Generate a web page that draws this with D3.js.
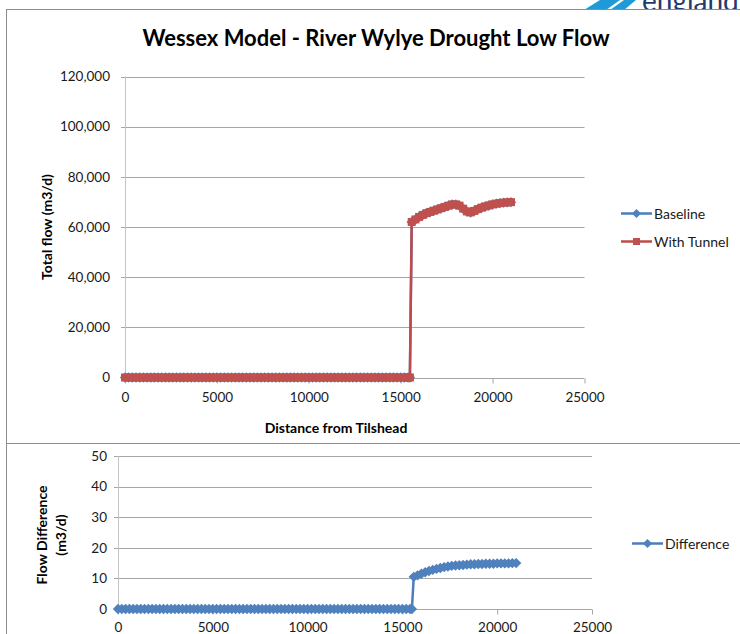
<!DOCTYPE html>
<meta charset="utf-8">
<body style="margin:0;background:#fff">
<script src="https://d3js.org/d3.v7.min.js"></script>
<svg></svg>
<script>
    var width = 740;
    var height = 634;

    // distance downstream from Tilshead (m)
    var distance = [
        0,200,400,600,800,1000,1200,1400,1600,1800,2000,2200,2400,2600,2800,3000,3200,3400,3600,3800,
        4000,4200,4400,4600,4800,5000,5200,5400,5600,5800,6000,6200,6400,6600,6800,7000,7200,7400,7600,7800,
        8000,8200,8400,8600,8800,9000,9200,9400,9600,9800,10000,10200,10400,10600,10800,11000,11200,11400,11600,11800,
        12000,12200,12400,12600,12800,13000,13200,13400,13600,13800,14000,14200,14400,14600,14800,15000,15200,15400,15500,
        15600,15800,16000,16200,16400,16600,16800,17000,17200,17400,17600,17800,18000,18200,18400,18600,18800,19000,19200,19400,
        19600,19800,20000,20200,20400,20600,20800,21000
    ];
    var baseline = [
        0,0,0,0,0,0,0,0,0,0,0,0,0,0,0,0,0,0,0,0,
        0,0,0,0,0,0,0,0,0,0,0,0,0,0,0,0,0,0,0,0,
        0,0,0,0,0,0,0,0,0,0,0,0,0,0,0,0,0,0,0,0,
        0,0,0,0,0,0,0,0,0,0,0,0,0,0,0,0,0,0,0,
        62000,63000,64000,64800,65500,66000,66500,67000,67500,68000,68500,69000,69000,68500,67300,66200,65800,66400,67100,67700,
        68200,68600,69000,69300,69500,69700,69800,69900
    ];
    var withTunnel = [
        0,0,0,0,0,0,0,0,0,0,0,0,0,0,0,0,0,0,0,0,
        0,0,0,0,0,0,0,0,0,0,0,0,0,0,0,0,0,0,0,0,
        0,0,0,0,0,0,0,0,0,0,0,0,0,0,0,0,0,0,0,0,
        0,0,0,0,0,0,0,0,0,0,0,0,0,0,0,0,0,0,0,
        62011,63011,64012,64812,65512,66013,66513,67013,67514,68014,68514,69014,69014,68514,67315,66215,65815,66415,67115,67715,
        68215,68615,69015,69315,69515,69715,69815,69915
    ];
    var difference = [
        0,0,0,0,0,0,0,0,0,0,0,0,0,0,0,0,0,0,0,0,
        0,0,0,0,0,0,0,0,0,0,0,0,0,0,0,0,0,0,0,0,
        0,0,0,0,0,0,0,0,0,0,0,0,0,0,0,0,0,0,0,0,
        0,0,0,0,0,0,0,0,0,0,0,0,0,0,0,0,0,0,0,
        10.5,11.0,11.5,12.0,12.4,12.8,13.1,13.4,13.7,13.9,14.1,14.2,14.3,14.4,14.5,14.6,14.6,14.7,14.7,14.8,
        14.8,14.8,14.9,14.9,14.9,14.9,15.0,15.0
    ];
    var flowTicks = [0,20000,40000,60000,80000,100000,120000];
    var diffTicks = [0,10,20,30,40,50];
    var distTicks = [0,5000,10000,15000,20000,25000];

    var blue = "#4A7EBB", red = "#BE4B48";
    var font = "Lato, 'Open Sans', sans-serif";

    var svg = d3.select("svg")
        .attr("width", width)
        .attr("height", height)
        .style("display", "block")
        .style("font-family", font);

    function diamond(r) { return "M0," + (-r) + "L" + r + ",0L0," + r + "L" + (-r) + ",0Z"; }

    // logo peeking in at the top right
    svg.append("path").attr("d", "M584,10L600,0L636,0L624,10Z").attr("fill", "#1E9AD6");
    svg.append("path").attr("d", "M606,10L620,0L624,0L610,10Z").attr("fill", "#fff");
    svg.append("text").attr("x", 642).attr("y", 11).attr("fill", "#1F3A6B")
        .style("font-size", "28px").text("england");

    // chart frames
    svg.append("rect").attr("x", 6.5).attr("y", 9.5).attr("width", 760).attr("height", 434)
        .attr("fill", "#fff").attr("stroke", "#8c8c8c");
    svg.append("rect").attr("x", 6.5).attr("y", 443.5).attr("width", 760).attr("height", 220)
        .attr("fill", "#fff").attr("stroke", "#8c8c8c");

    // **** TOP CHART: TOTAL FLOW ****
    var x1 = d3.scaleLinear().domain([0, 25000]).range([125, 584.5]);
    var y1 = d3.scaleLinear().domain([0, 120000]).range([377.5, 76.5]);
    var flowChart = svg.append("g");

    flowChart.append("text").attr("x", 376).attr("y", 46).attr("text-anchor", "middle")
        .style("font-size", "22px").style("font-weight", "bold").attr("fill", "#000")
        .text("Wessex Model - River Wylye Drought Low Flow");

    flowChart.selectAll(".grid").data(flowTicks).enter().append("line")
        .attr("x1", 121).attr("x2", 584.5)
        .attr("y1", function(d){ return Math.round(y1(d)) + 0.5; })
        .attr("y2", function(d){ return Math.round(y1(d)) + 0.5; })
        .attr("stroke", "#a6a6a6");
    flowChart.append("line").attr("x1", 125.5).attr("x2", 125.5).attr("y1", 76.5).attr("y2", 378)
        .attr("stroke", "#c4c4c4");

    var xAxis1 = flowChart.append("g").attr("transform", "translate(0," + (Math.round(y1(0)) + 0.5) + ")")
        .call(d3.axisBottom(x1).tickValues(distTicks).tickSize(5).tickSizeOuter(0).tickFormat(d3.format("d")));
    var yAxis1 = flowChart.append("g").attr("transform", "translate(107,0)")
        .call(d3.axisLeft(y1).tickValues(flowTicks).tickSize(0).tickFormat(d3.format(",")));
    [xAxis1, yAxis1].forEach(function(a){
        a.select(".domain").remove();
        a.selectAll("line").attr("stroke", "#a6a6a6");
        a.selectAll("text").style("font-size", "13.5px").style("font-family", font).attr("fill", "#1a1a1a");
    });
    xAxis1.selectAll("text").attr("dy", "0.71em").attr("y", 14);
    yAxis1.selectAll("text").attr("x", 3);

    flowChart.append("text").attr("transform", "translate(52,227) rotate(-90)").attr("text-anchor", "middle")
        .style("font-size", "14px").style("font-weight", "bold").text("Total flow (m3/d)");
    flowChart.append("text").attr("x", 336).attr("y", 433).attr("text-anchor", "middle")
        .style("font-size", "14px").style("font-weight", "bold").text("Distance from Tilshead");

    var line1 = function(vals){
        return d3.line().x(function(d, i){ return x1(distance[i]); }).y(function(d){ return y1(d); })(vals);
    };
    flowChart.append("path").attr("d", line1(baseline)).attr("fill", "none").attr("stroke", blue).attr("stroke-width", 2.5);
    flowChart.selectAll(".base").data(baseline).enter().append("path")
        .attr("d", diamond(5.2))
        .attr("transform", function(d, i){ return "translate(" + x1(distance[i]) + "," + y1(d) + ")"; })
        .attr("fill", "#4F81BD");
    flowChart.append("path").attr("d", line1(withTunnel)).attr("fill", "none").attr("stroke", red).attr("stroke-width", 2.5);
    flowChart.selectAll(".tun").data(withTunnel).enter().append("rect")
        .attr("x", function(d, i){ return x1(distance[i]) - 4; })
        .attr("y", function(d){ return y1(d) - 4; })
        .attr("width", 8).attr("height", 8)
        .attr("fill", "#C0504D");

    // legend
    var legend1 = [{name: "Baseline", color: blue, y: 213.5, shape: "diamond"},
                   {name: "With Tunnel", color: red, y: 241.5, shape: "square"}];
    legend1.forEach(function(l){
        svg.append("line").attr("x1", 621).attr("x2", 652).attr("y1", l.y).attr("y2", l.y)
            .attr("stroke", l.color).attr("stroke-width", 2.5);
        if (l.shape == "diamond")
            svg.append("path").attr("d", diamond(4.6)).attr("transform", "translate(636.5," + l.y + ")").attr("fill", "#4F81BD");
        else
            svg.append("rect").attr("x", 633).attr("y", l.y - 3.5).attr("width", 7).attr("height", 7).attr("fill", "#C0504D");
        svg.append("text").attr("x", 654).attr("y", l.y + 5).style("font-size", "14px").attr("fill", "#1a1a1a").text(l.name);
    });

    // **** BOTTOM CHART: FLOW DIFFERENCE ****
    var x2 = d3.scaleLinear().domain([0, 25000]).range([118, 592]);
    var y2 = d3.scaleLinear().domain([0, 50]).range([609, 456]);
    var diffChart = svg.append("g");

    diffChart.selectAll(".grid").data(diffTicks).enter().append("line")
        .attr("x1", 114).attr("x2", 592)
        .attr("y1", function(d){ return Math.round(y2(d)) + 0.5; })
        .attr("y2", function(d){ return Math.round(y2(d)) + 0.5; })
        .attr("stroke", "#a6a6a6");
    diffChart.append("line").attr("x1", 118.5).attr("x2", 118.5).attr("y1", 456).attr("y2", 610)
        .attr("stroke", "#c4c4c4");

    var xAxis2 = diffChart.append("g").attr("transform", "translate(0," + (Math.round(y2(0)) + 0.5) + ")")
        .call(d3.axisBottom(x2).tickValues(distTicks).tickSize(5).tickSizeOuter(0).tickFormat(d3.format("d")));
    var yAxis2 = diffChart.append("g").attr("transform", "translate(104,0)")
        .call(d3.axisLeft(y2).tickValues(diffTicks).tickSize(0));
    [xAxis2, yAxis2].forEach(function(a){
        a.select(".domain").remove();
        a.selectAll("line").attr("stroke", "#a6a6a6");
        a.selectAll("text").style("font-size", "13.5px").style("font-family", font).attr("fill", "#1a1a1a");
    });
    xAxis2.selectAll("text").attr("dy", "0.71em").attr("y", 13);
    yAxis2.selectAll("text").attr("x", 3);

    var yTitle2 = diffChart.append("text").attr("transform", "translate(47,535) rotate(-90)").attr("text-anchor", "middle")
        .style("font-size", "14px").style("font-weight", "bold");
    yTitle2.append("tspan").attr("x", 0).attr("y", 0).text("Flow Difference");
    yTitle2.append("tspan").attr("x", 0).attr("y", 19).text("(m3/d)");

    var line2 = d3.line().x(function(d, i){ return x2(distance[i]); }).y(function(d){ return y2(d); });
    diffChart.append("path").attr("d", line2(difference)).attr("fill", "none").attr("stroke", blue).attr("stroke-width", 2.5);
    diffChart.selectAll(".diff").data(difference).enter().append("path")
        .attr("d", diamond(5.2))
        .attr("transform", function(d, i){ return "translate(" + x2(distance[i]) + "," + y2(d) + ")"; })
        .attr("fill", "#4F81BD");

    svg.append("line").attr("x1", 632).attr("x2", 663).attr("y1", 543.5).attr("y2", 543.5)
        .attr("stroke", blue).attr("stroke-width", 2.5);
    svg.append("path").attr("d", diamond(4.6)).attr("transform", "translate(647.5,543.5)").attr("fill", "#4F81BD");
    svg.append("text").attr("x", 665).attr("y", 548.5).style("font-size", "14px").attr("fill", "#1a1a1a").text("Difference");
</script>
